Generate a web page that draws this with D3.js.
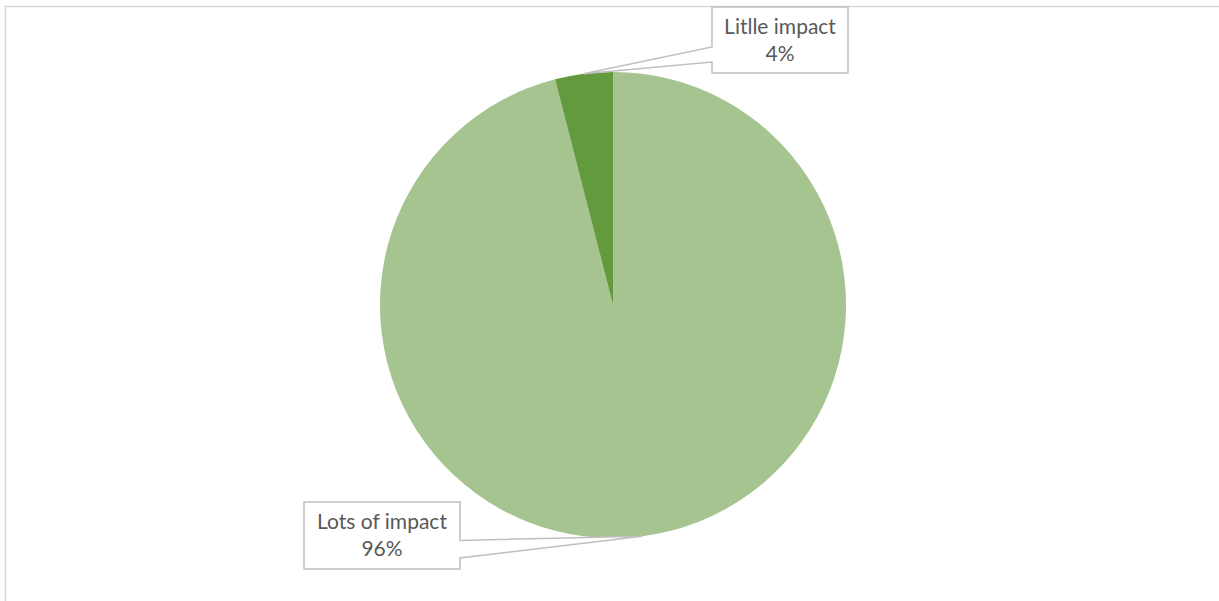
<!DOCTYPE html>
<html>
<head>
<meta charset="utf-8">
<script src="https://cdn.jsdelivr.net/npm/d3@7/dist/d3.min.js"></script>
<style>
  html, body { margin: 0; padding: 0; background: #ffffff; }
  svg { display: block; }
</style>
</head>
<body>
<svg id="chart" width="1219" height="601"></svg>
<script>
// ---- data ----
const categories = ["Lots of impact", "Litlle impact"];
const values = [96, 4];
const colors = ["#A5C490", "#649A3E"];
const percentLabels = ["96%", "4%"];

// ---- layout ----
const W = 1219, H = 601;
const cx = 613, cy = 305, R = 233;
const svg = d3.select("#chart");

// chart area border (extends past the window)
svg.append("rect")
  .attr("x", 5.5).attr("y", 6.5)
  .attr("width", W + 20).attr("height", H + 20)
  .attr("fill", "#ffffff")
  .attr("stroke", "#D9D9D9").attr("stroke-width", 1.5);

const pie = d3.pie().sort(null).value(d => d)(values);
const arc = d3.arc().innerRadius(0).outerRadius(R);

const g = svg.append("g").attr("transform", `translate(${cx},${cy})`);
g.selectAll("path.slice")
  .data(pie)
  .join("path")
  .attr("class", "slice")
  .attr("d", arc)
  .attr("fill", (d, i) => colors[i]);

// callout boxes (label layout)
const boxes = [
  { x: 304, y: 502, w: 156, h: 67, side: "right", wedge: [540.5, 558] },
  { x: 712, y: 7,   w: 136, h: 66, side: "left",  wedge: [62, 47] }
];

pie.forEach((d, i) => {
  const mid = (d.startAngle + d.endAngle) / 2;
  const tx = cx + Math.sin(mid) * R;
  const ty = cy - Math.cos(mid) * R;
  const b = boxes[i];
  const p = d3.path();
  if (b.side === "left") {
    p.moveTo(b.x, b.y);
    p.lineTo(b.x + b.w, b.y);
    p.lineTo(b.x + b.w, b.y + b.h);
    p.lineTo(b.x, b.y + b.h);
    p.lineTo(b.x, b.wedge[0]);
    p.lineTo(tx, ty);
    p.lineTo(b.x, b.wedge[1]);
    p.closePath();
  } else {
    p.moveTo(b.x, b.y);
    p.lineTo(b.x + b.w, b.y);
    p.lineTo(b.x + b.w, b.wedge[0]);
    p.lineTo(tx, ty);
    p.lineTo(b.x + b.w, b.wedge[1]);
    p.lineTo(b.x + b.w, b.y + b.h);
    p.lineTo(b.x, b.y + b.h);
    p.closePath();
  }
  svg.append("path")
    .attr("d", p.toString())
    .attr("fill", "#ffffff")
    .attr("stroke", "#BFBFBF")
    .attr("stroke-width", 1.5)
    .attr("stroke-linejoin", "miter");

  const t = svg.append("text")
    .attr("x", b.x + b.w / 2)
    .attr("text-anchor", "middle")
    .attr("font-family", "Lato, 'Open Sans', sans-serif")
    .attr("font-size", 21)
    .attr("fill", "#595959");
  t.append("tspan").attr("x", b.x + b.w / 2).attr("y", b.y + 27).text(categories[i]);
  t.append("tspan").attr("x", b.x + b.w / 2).attr("y", b.y + 54).text(percentLabels[i]);
});
</script>
</body>
</html>
